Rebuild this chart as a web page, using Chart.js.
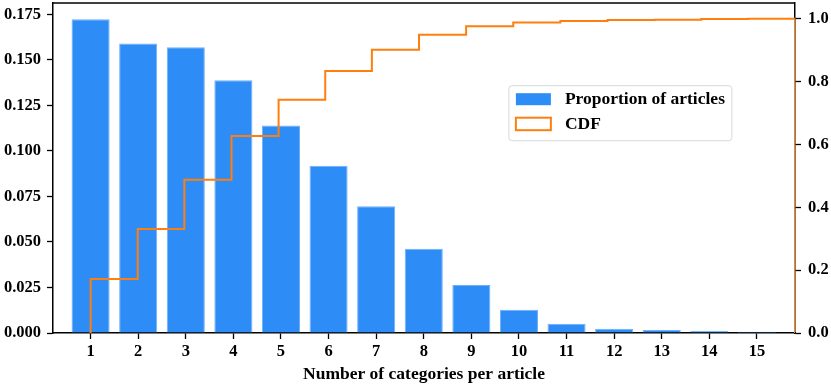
<!DOCTYPE html>
<html>
<head>
<meta charset="utf-8">
<script src="https://cdn.jsdelivr.net/npm/chart.js@4/dist/chart.umd.min.js"></script>
<style>
  html, body { margin: 0; padding: 0; background: #fff; }
  #wrap { width: 831px; height: 386px; }
</style>
</head>
<body>
<div id="wrap"><canvas id="chart" width="831" height="386"></canvas></div>
<script>
// values
const categories = [1, 2, 3, 4, 5, 6, 7, 8, 9, 10, 11, 12, 13, 14, 15];
const proportions = [0.1724, 0.1590, 0.1570, 0.1389, 0.1140, 0.0919, 0.0697, 0.0463, 0.0264, 0.0128, 0.0051, 0.0024, 0.0016, 0.0011, 0.0007];
// CDF step histogram: bin edges and the level of each bin
const cdfEdges = [1, 1.99, 2.97, 3.96, 4.95, 5.93, 6.91, 7.9, 8.89, 9.88, 10.87, 11.86, 12.85, 13.83, 14.82, 15.8];
const cdfLevels = [0.172, 0.331, 0.488, 0.627, 0.742, 0.834, 0.901, 0.949, 0.976, 0.988, 0.993, 0.996, 0.997, 0.999, 1.0];
const xTicks = [1, 2, 3, 4, 5, 6, 7, 8, 9, 10, 11, 12, 13, 14, 15];
const leftTicks = [0, 0.025, 0.05, 0.075, 0.1, 0.125, 0.15, 0.175];
const rightTicks = [0, 0.2, 0.4, 0.6, 0.8, 1.0];

const FONT = "'Liberation Serif', 'Times New Roman', serif";
const BLUE = "#2d8cf6";
const ORANGE = "#ff7f0e";

// step path points built from the edges/levels above
const cdfPoints = [{ x: cdfEdges[0], y: 0 }];
cdfLevels.forEach((v, i) => cdfPoints.push({ x: cdfEdges[i], y: v }));
cdfPoints.push({ x: cdfEdges[cdfEdges.length - 1], y: cdfLevels[cdfLevels.length - 1] });
cdfPoints.push({ x: cdfEdges[cdfEdges.length - 1], y: 0 });

const setTicks = arr => scale => { scale.ticks = arr.map(v => ({ value: v })); };

// top spine + legend box drawn inside the plot
const framePlugin = {
    id: "frame",
    afterDatasetsDraw(chart) {
        const { ctx, chartArea: ca } = chart;
        ctx.save();
        ctx.strokeStyle = "#000";
        ctx.lineWidth = 1.5;
        ctx.beginPath();
        ctx.moveTo(ca.left, ca.top);
        ctx.lineTo(ca.right, ca.top);
        ctx.stroke();

        // legend
        const bx = ca.left + ca.width * 0.6144;
        const by = ca.top + ca.height * 0.2506;
        const bw = 223, bh = 55;
        ctx.fillStyle = "rgba(255,255,255,0.85)";
        ctx.strokeStyle = "#d5d9d9";
        ctx.lineWidth = 1;
        ctx.beginPath();
        ctx.roundRect(bx, by, bw, bh, 3);
        ctx.fill();
        ctx.stroke();

        const bars = chart.data.datasets[1];
        const line = chart.data.datasets[0];
        ctx.fillStyle = BLUE;
        ctx.fillRect(bx + 7, by + 7.5, 35, 12);
        ctx.strokeStyle = ORANGE;
        ctx.lineWidth = 2;
        ctx.strokeRect(bx + 7, by + 32, 35, 12.5);

        ctx.fillStyle = "#000";
        ctx.font = "bold 17.5px " + FONT;
        ctx.textAlign = "left";
        ctx.textBaseline = "middle";
        ctx.fillText(bars.label, bx + 56, by + 14);
        ctx.fillText(line.label, bx + 56, by + 38.5);
        ctx.restore();
    }
};

const tickFont = { family: FONT, size: 16.5, weight: "bold" };
const axisGrid = { drawOnChartArea: false, offset: false, tickLength: 6, color: "#000", tickColor: "#000", tickWidth: 1.3 };
const axisBorder = { display: true, color: "#000", width: 1.5 };

new Chart(document.getElementById("chart"), {
    type: "bar",
    data: {
        datasets: [
            {
                type: "line",
                label: "CDF",
                data: cdfPoints,
                yAxisID: "y2",
                borderColor: ORANGE,
                borderWidth: 2,
                pointRadius: 0,
                stepped: "before",
                fill: false,
                order: 0
            },
            {
                type: "bar",
                label: "Proportion of articles",
                data: categories.map((c, i) => ({ x: c, y: proportions[i] })),
                yAxisID: "y",
                backgroundColor: BLUE,
                borderColor: "#6fb0f8",
                borderWidth: 1,
                barPercentage: 0.8,
                categoryPercentage: 1.0,
                order: 1
            }
        ]
    },
    options: {
        responsive: false,
        animation: false,
        layout: { padding: { top: 3, left: 0, right: 0, bottom: 0 } },
        plugins: {
            legend: { display: false },
            tooltip: { enabled: false }
        },
        scales: {
            x: {
                type: "linear",
                offset: false,
                min: 0.21,
                max: 15.8,
                afterBuildTicks: setTicks(xTicks),
                afterFit: s => { s.height = 53; s.paddingLeft = 0; s.paddingRight = 0; },
                border: axisBorder,
                grid: axisGrid,
                ticks: { font: tickFont, color: "#000", padding: 3, autoSkip: false, maxRotation: 0 },
                title: {
                    display: true,
                    text: "Number of categories per article",
                    color: "#000",
                    font: { family: FONT, size: 17.5, weight: "bold" },
                    padding: { top: 0, bottom: 1 }
                }
            },
            y: {
                position: "left",
                min: 0,
                max: 0.1813,
                afterBuildTicks: setTicks(leftTicks),
                afterFit: s => { s.width = 53; s.paddingTop = 0; s.paddingBottom = 0; },
                border: axisBorder,
                grid: axisGrid,
                ticks: { font: tickFont, color: "#000", padding: 6, callback: v => v.toFixed(3) }
            },
            y2: {
                position: "right",
                min: 0,
                max: 1.05,
                afterBuildTicks: setTicks(rightTicks),
                afterFit: s => { s.width = 36; s.paddingTop = 0; s.paddingBottom = 0; },
                border: axisBorder,
                grid: axisGrid,
                ticks: { font: tickFont, color: "#000", padding: 7, callback: v => v.toFixed(1) }
            }
        }
    },
    plugins: [framePlugin]
});
</script>
</body>
</html>
